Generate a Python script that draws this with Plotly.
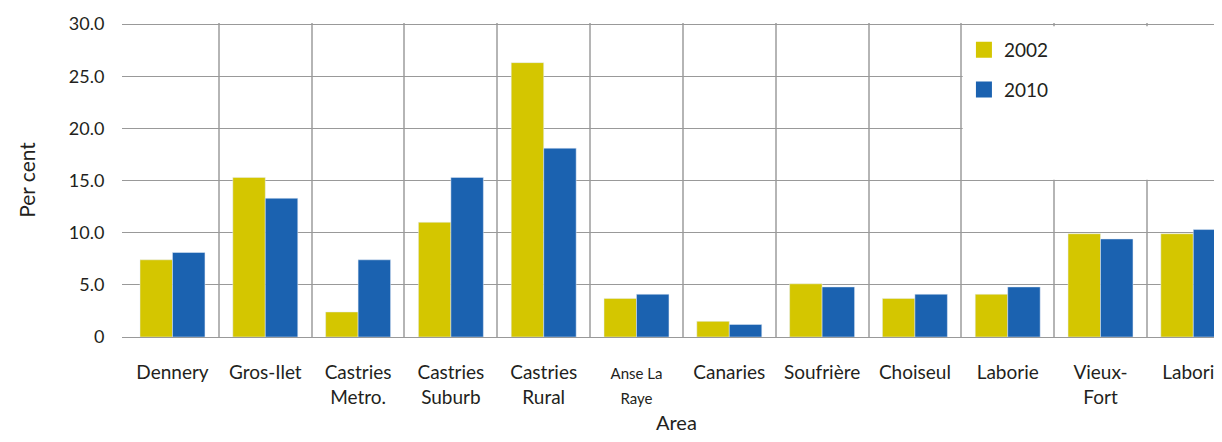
import plotly.graph_objects as go

areas = ["Dennery", "Gros-Ilet", "Castries<br>Metro.", "Castries<br>Suburb", "Castries<br>Rural",
         "<span style='font-size:15px'>Anse La<br>Raye</span>", "Canaries", "Soufrière", "Choiseul",
         "Laborie", "Vieux-<br>Fort", "Laborie"]
pos = list(range(len(areas)))
y2002 = [7.4, 15.3, 2.4, 11.0, 26.3, 3.7, 1.5, 5.1, 3.7, 4.1, 9.9, 9.9]
y2010 = [8.1, 13.3, 7.4, 15.3, 18.1, 4.1, 1.2, 4.8, 4.1, 4.8, 9.4, 10.3]
yticks = [0, 5, 10, 15, 20, 25, 30]
yticktext = ["0", "5.0", "10.0", "15.0", "20.0", "25.0", "30.0"]

c2002 = "#d4c600"
c2010 = "#1b62b0"
txt = "#231f20"
font = "Lato"

fig = go.Figure()
fig.add_trace(go.Bar(x=pos, y=y2002, marker_color=c2002, showlegend=False))
fig.add_trace(go.Bar(x=pos, y=y2010, marker_color=c2010, showlegend=False))
# legend entries with bigger squares
fig.add_trace(go.Scatter(x=[None], y=[None], mode="markers", name="2002", legendgroup="a",
                         marker=dict(symbol="square", size=19, color=c2002)))
fig.add_trace(go.Scatter(x=[None], y=[None], mode="markers", name="2010", legendgroup="b",
                         marker=dict(symbol="square", size=19, color=c2010)))

# white box behind the legend
fig.add_shape(type="rect", xref="x", yref="y", x0=8.515, x1=12, y0=15.07, y1=29.8,
              fillcolor="white", line_width=0, layer="between")

# x axis title (standoff is ignored without automargin)
fig.add_annotation(text="Area", xref="paper", yref="paper", x=0.508, y=-0.27,
                   xanchor="center", yanchor="middle", showarrow=False,
                   font=dict(size=20, color=txt, family=font))

# separators between areas
bounds = [p + 0.5 for p in pos[:-1]]

# page body has an 8px margin, so the figure is 16px smaller than the window
fig.update_layout(
    width=1206, height=426,
    margin=dict(l=114, r=0, t=15, b=97, autoexpand=False),
    paper_bgcolor="white", plot_bgcolor="white",
    font=dict(family=font, size=18, color=txt),
    barmode="group", bargap=0.3, bargroupgap=0,
    legend=dict(x=0.771, y=0.975, xanchor="left", yanchor="top", bgcolor="rgba(0,0,0,0)",
                font=dict(size=19), tracegroupgap=12, traceorder="grouped"),
    xaxis=dict(range=[-0.544, 11.223], tickvals=pos, ticktext=areas, showgrid=False,
               minor=dict(tickvals=bounds, showgrid=True, gridcolor="#b5b5b5", gridwidth=1.5),
               ticks="", ticklabelstandoff=18, tickfont=dict(size=19), zeroline=False,
               ticklabeloverflow="allow", automargin=False,
               showline=True, linecolor="#999999", linewidth=1),
    yaxis=dict(range=[0, 30.1], tickvals=yticks, ticktext=yticktext, showgrid=True,
               gridcolor="#999999", gridwidth=1, zeroline=False, automargin=False,
               ticks="outside", ticklen=13, tickcolor="rgba(0,0,0,0)",
               title=dict(text="Per cent", font=dict(size=21), standoff=27)),
)

fig.write_html("out.html")
